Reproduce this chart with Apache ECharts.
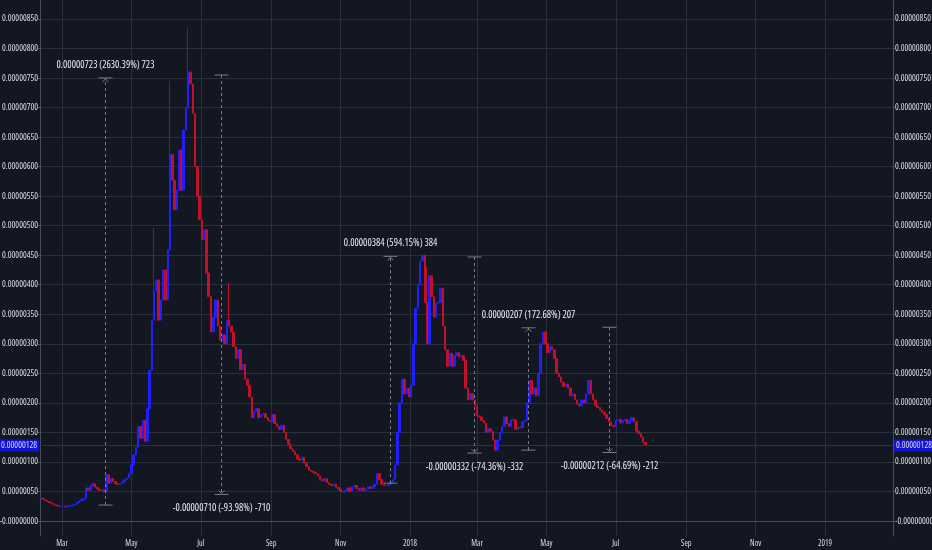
<!DOCTYPE html>
<html><head><meta charset="utf-8">
<script src="https://cdn.jsdelivr.net/npm/echarts@6/dist/echarts.min.js"></script>
<style>html,body{margin:0;padding:0;background:#131722}#c{width:932px;height:550px}</style>
</head><body><div id="c"></div>
<script>
// prices in satoshi (1e-8), one candle every 2 days starting 2017-02-10
const startDate = '2017-02-10';
const stepDays = 2;
const closes = [
39,37,35,33,31,29,27,26,25,25,
25,24,25,26,27,28,31,34,36,38,
56,52,59,63,57,54,52,53,49,78,
64,72,67,63,62,64,66,70,73,80,
95,112,125,160,140,170,135,190,255,340,
390,408,340,374,425,374,459,620,577,527,
560,628,560,662,700,760,740,690,600,550,
510,476,493,420,380,320,345,374,330,306,
315,300,340,330,320,295,275,290,256,265,
240,230,210,175,186,190,175,180,182,175,
170,168,180,165,160,155,162,150,138,130,
122,118,112,105,103,108,98,92,86,84,
82,80,76,70,68,72,65,62,60,62,
57,54,50,49,52,56,50,58,60,55,
52,56,52,54,58,55,58,62,80,70,
62,60,60,62,66,70,95,150,200,240,
215,225,210,230,300,360,400,440,450,370,
300,415,380,345,369,370,394,330,290,262,
284,262,280,285,278,280,272,225,205,216,
205,195,178,176,170,166,150,156,152,137,
120,137,150,160,176,165,160,172,171,155,
159,158,168,170,200,238,215,225,212,250,
300,320,300,285,295,290,275,250,244,235,
228,232,225,212,215,205,198,195,205,200,
215,238,215,205,195,192,188,184,180,174,
168,162,160,170,172,166,170,172,165,170,
175,168,152,148,142,133,128
];
// [candle index, high] for long upper wicks
const wickHighs = [[50,496],[57,745],[65,835],[83,403],[170,430]];
const lastPrice = 128;

const monthTickDates = ['2017-03-01','2017-05-01','2017-07-01','2017-09-01','2017-11-01','2018-01-01','2018-03-01','2018-05-01','2018-07-01','2018-09-01','2018-11-01','2019-01-01'];
const monthTickLabels = ['Mar','May','Jul','Sep','Nov','2018','Mar','May','Jul','Sep','Nov','2019'];
const priceTicks = [0,50,100,150,200,250,300,350,400,450,500,550,600,650,700,750,800,850];

const measureDates = ['2017-04-08','2017-07-19','2017-12-14','2018-02-26','2018-04-15','2018-06-25'];
const measureFrom = [27,755,64,447,120,328];
const measureTo = [750,45,448,115,327,116];
const measureText = ['0.00000723 (2630.39%) 723','-0.00000710 (-93.98%) -710','0.00000384 (594.15%) 384','-0.00000332 (-74.36%) -332','0.00000207 (172.68%) 207','-0.00000212 (-64.69%) -212'];

const DAY = 86400000;
const t0 = Date.parse(startDate);
const candles = closes.map((c, i) => {
  const o = i === 0 ? c : closes[i - 1];
  return [t0 + i * stepDays * DAY, o, c, Math.min(o, c), Math.max(o, c)];
});
wickHighs.forEach(([i, h]) => { candles[i][4] = h; });
const tickTimes = monthTickDates.map(d => Date.parse(d));

// choose the narrowest installed sans face (optionally condensed) and size text to the reference widths
const mctx = document.createElement('canvas').getContext('2d');
function tw(font, s) { mctx.font = '10px monospace'; mctx.font = font; return mctx.measureText(s).width; }
function hasFont(f) {
  const s = '0123456789 Mar (%) abc';
  return ['monospace', 'serif'].some(b => tw('20px ' + b, s) !== tw("20px '" + f + "', " + b, s));
}
const fontOptions = [
  ['', 'Liberation Sans Narrow'], ['condensed', 'DejaVu Sans'], ['', 'DejaVu Sans Condensed'],
  ['condensed', 'Noto Sans'], ['condensed', 'Open Sans'], ['', 'Liberation Sans'], ['', 'Roboto'], ['', 'DejaVu Sans']
];
let best = null;
for (const [st, fam] of fontOptions) {
  if (!hasFont(fam)) continue;
  const w = tw((st ? st + ' ' : '') + "10px '" + fam + "'", '0.00000850');
  if (!best || w < best.w - 0.01) best = {st, fam, w};
}
if (!best) best = {st: '', fam: 'sans-serif', w: tw('10px sans-serif', '0.00000850')};
const FSTYLE = best.st || 'normal';
const FAM = "'" + best.fam + "', sans-serif";
function fontStr(size) { return (best.st ? best.st + ' ' : '') + size + 'px ' + FAM; }
function sizeFor(s, w, cap) { return Math.min(cap, Math.round(10 * w / tw(fontStr(10), s) * 10) / 10); }
const ySize = sizeFor('0.00000850', 36, 10);
const xSize = sizeFor('2018', 14, 10);
const mSize = sizeFor('0.00000384 (594.15%) 384', 94, 11);

const fmtPrice = v => (v === 0 ? '-0.00000000' : (v / 1e8).toFixed(8));
const gridColor = '#2b2f3b';
const axisColor = '#4a4e5a';
const textColor = '#dcdee3';

const chart = echarts.init(document.getElementById('c'), null, {renderer: 'canvas'});
const yBase = {
  type: 'value', min: -25.4, max: 882, scale: false,
  axisLine: {show: true, lineStyle: {color: axisColor}},
  axisTick: {show: true, length: 2, customValues: priceTicks, lineStyle: {color: axisColor}},
  axisLabel: {customValues: priceTicks, formatter: fmtPrice, color: textColor, fontSize: ySize, fontFamily: FAM, fontStyle: FSTYLE, margin: 2},
};
chart.setOption({
  animation: false,
  backgroundColor: '#131722',
  grid: {left: 40, right: 39, top: 0, bottom: 14, containLabel: false, outerBoundsMode: 'none'},
  xAxis: {
    type: 'value',
    min: Date.UTC(2017, 1, 9, 15), max: Date.UTC(2019, 2, 1, 19),
    axisLine: {show: true, lineStyle: {color: axisColor}},
    axisTick: {show: false, customValues: tickTimes},
    axisLabel: {
      customValues: tickTimes, color: textColor, fontSize: xSize, fontFamily: FAM, fontStyle: FSTYLE, margin: 4,
      formatter: v => { const i = tickTimes.indexOf(v); return i >= 0 ? monthTickLabels[i] : ''; }
    },
    splitLine: {show: true, lineStyle: {color: gridColor, width: 1}}
  },
  yAxis: [
    Object.assign({}, yBase, {position: 'left', splitLine: {show: true, lineStyle: {color: gridColor, width: 1}}}),
    Object.assign({}, yBase, {position: 'right', splitLine: {show: false}})
  ],
  series: [
    {
      type: 'candlestick',
      data: candles,
      encode: {x: 0, y: [1, 2, 3, 4]},
      barWidth: 2,
      itemStyle: {color: '#2020ff', color0: '#c0102a', borderColor: '#2020ff', borderColor0: '#c0102a', borderWidth: 1},
      markLine: {
        symbol: 'none', silent: true, animation: false,
        lineStyle: {color: '#2020c8', width: 1, type: 'solid', opacity: 0.8},
        label: {
          formatter: () => fmtPrice(lastPrice), color: '#ffffff', backgroundColor: '#1414ff',
          padding: [2, 2, 1, 2], fontSize: ySize, fontFamily: FAM, fontStyle: FSTYLE, distance: 1
        },
        data: [
          {yAxis: lastPrice, label: {position: 'start'}},
          {yAxis: lastPrice, label: {position: 'end'}}
        ]
      }
    },
    {
      type: 'custom',
      data: measureDates.map((d, i) => [Date.parse(d), measureFrom[i], measureTo[i], i]),
      encode: {x: 0, y: [1, 2]},
      z: 5,
      renderItem: (params, api) => {
        const t = api.value(0), f = api.value(1), to = api.value(2), i = api.value(3);
        const pf = api.coord([t, f]), pt = api.coord([t, to]);
        const x = Math.round(pf[0]) + 0.5;
        const up = to > f;
        const c = '#7b7e88';
        const w = 7;
        const ay = pt[1], dir = up ? 1 : -1;
        return {
          type: 'group',
          children: [
            {type: 'line', shape: {x1: x, y1: pf[1], x2: x, y2: pt[1]}, style: {stroke: c, lineWidth: 1, lineDash: [3, 3]}},
            {type: 'line', shape: {x1: x - w, y1: pf[1], x2: x + w, y2: pf[1]}, style: {stroke: c, lineWidth: 1}},
            {type: 'line', shape: {x1: x - w, y1: pt[1], x2: x + w, y2: pt[1]}, style: {stroke: c, lineWidth: 1}},
            {type: 'polyline', shape: {points: [[x - 3, ay + 4 * dir], [x, ay + 1 * dir], [x + 3, ay + 4 * dir]]}, style: {stroke: c, fill: null, lineWidth: 1}},
            {type: 'text', style: {text: measureText[i], x: x, y: up ? pt[1] - 13 : pt[1] + 14, align: 'center', verticalAlign: 'middle', fill: '#e8eaee', font: fontStr(mSize)}}
          ]
        };
      }
    }
  ]
});
</script>
</body></html>
